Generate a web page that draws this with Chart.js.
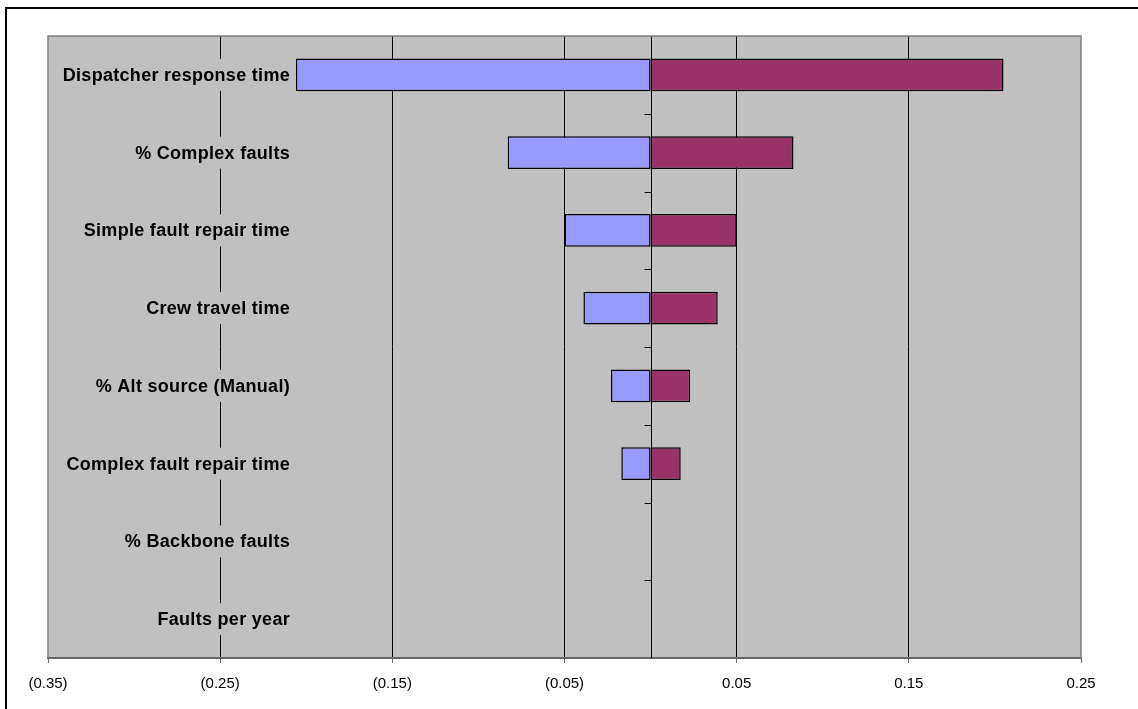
<!DOCTYPE html>
<html>
<head>
<meta charset="utf-8">
<title>Tornado chart</title>
<script src="https://cdn.jsdelivr.net/npm/chart.js@4.4.1/dist/chart.umd.min.js"></script>
<style>
  html, body { margin: 0; padding: 0; background: #fff; }
  #wrap { width: 1138px; height: 709px; position: relative; }
  canvas { display: block; }
</style>
</head>
<body>
<div id="wrap"><canvas id="chart" width="1138" height="709"></canvas></div>
<script>
// Datos del gráfico
const categories = [
    'Dispatcher response time',
    '% Complex faults',
    'Simple fault repair time',
    'Crew travel time',
    '% Alt source (Manual)',
    'Complex fault repair time',
    '% Backbone faults',
    'Faults per year'
];
const lowValues = [-0.206, -0.083, -0.050, -0.039, -0.023, -0.017, 0, 0];
const highValues = [0.205, 0.083, 0.050, 0.039, 0.023, 0.0175, 0, 0];
const xTicks = [-0.35, -0.25, -0.15, -0.05, 0.05, 0.15, 0.25];

const FONT = "'Liberation Sans', Arial, sans-serif";
const PLOT_BG = '#C0C0C0';

function fmtTick(v) {
    return v < 0 ? '(' + Math.abs(v).toFixed(2) + ')' : v.toFixed(2);
}

// Fondo gris y marco exterior
const backgroundPlugin = {
    id: 'plotBackground',
    beforeDraw(chart) {
        const { ctx, chartArea: a } = chart;
        ctx.save();
        ctx.fillStyle = PLOT_BG;
        ctx.fillRect(a.left, a.top, a.right - a.left, a.bottom - a.top);
        ctx.strokeStyle = '#000';
        ctx.lineWidth = 2;
        ctx.beginPath();
        ctx.moveTo(6, chart.height + 2);
        ctx.lineTo(6, 8);
        ctx.lineTo(chart.width + 2, 8);
        ctx.stroke();
        ctx.restore();
    }
};

// Eje vertical en cero con sus marcas
const zeroAxisPlugin = {
    id: 'zeroAxis',
    beforeDatasetsDraw(chart) {
        const { ctx, chartArea: a, scales } = chart;
        const x0 = Math.round(scales.x.getPixelForValue(0)) + 0.5;
        const step = (a.bottom - a.top) / categories.length;
        ctx.save();
        ctx.strokeStyle = '#000';
        ctx.lineWidth = 1;
        ctx.beginPath();
        ctx.moveTo(x0, a.top);
        ctx.lineTo(x0, a.bottom);
        for (let i = 1; i < categories.length; i++) {
            const y = Math.round(a.top + step * i) + 0.5;
            ctx.moveTo(x0 - 7, y);
            ctx.lineTo(x0, y);
        }
        ctx.stroke();
        // borde del área de trazado
        ctx.strokeStyle = '#808080';
        ctx.lineWidth = 1.5;
        ctx.beginPath();
        ctx.moveTo(a.left, a.bottom);
        ctx.lineTo(a.left, a.top);
        ctx.lineTo(a.right, a.top);
        ctx.lineTo(a.right, a.bottom);
        ctx.stroke();
        ctx.restore();
    }
};

// Etiquetas de categorías dentro del área
const categoryLabelsPlugin = {
    id: 'categoryLabels',
    afterDatasetsDraw(chart) {
        const { ctx, scales } = chart;
        const right = 290;
        ctx.save();
        ctx.font = 'bold 18px ' + FONT;
        ctx.letterSpacing = '0.3px';
        ctx.textAlign = 'right';
        ctx.textBaseline = 'middle';
        categories.forEach((label, i) => {
            const y = scales.y.getPixelForValue(i);
            const w = ctx.measureText(label).width;
            ctx.fillStyle = PLOT_BG;
            ctx.fillRect(right - w - 4, y - 16, w + 8, 32);
            ctx.fillStyle = '#000';
            ctx.fillText(label, right, y + 1);
        });
        ctx.restore();
    }
};

const ctx = document.getElementById('chart').getContext('2d');
new Chart(ctx, {
    type: 'bar',
    data: {
        labels: categories,
        datasets: [
            {
                label: 'Low',
                data: lowValues,
                backgroundColor: '#9999FF',
                borderColor: '#000',
                borderWidth: 1.5,
                borderSkipped: false,
                barPercentage: 0.42,
                categoryPercentage: 1
            },
            {
                label: 'High',
                data: highValues,
                backgroundColor: '#993366',
                borderColor: '#000',
                borderWidth: 1.5,
                borderSkipped: false,
                barPercentage: 0.42,
                categoryPercentage: 1
            }
        ]
    },
    options: {
        indexAxis: 'y',
        responsive: false,
        animation: false,
        devicePixelRatio: 1,
        layout: { padding: { left: 48, right: 57, top: 36, bottom: 0 } },
        plugins: {
            legend: { display: false },
            tooltip: { enabled: false }
        },
        scales: {
            x: {
                type: 'linear',
                stacked: true,
                min: -0.35,
                max: 0.25,
                afterBuildTicks: axis => { axis.ticks = xTicks.map(v => ({ value: v })); },
                afterFit: axis => { axis.height = 51; },
                grid: {
                    color: c => (c.index === 0 || c.index === xTicks.length - 1) ? 'rgba(0,0,0,0)' : '#000',
                    tickColor: '#666',
                    tickLength: 5,
                    lineWidth: 1
                },
                border: { color: '#666', width: 2 },
                ticks: {
                    callback: v => fmtTick(v),
                    color: '#000',
                    font: { family: FONT, size: 15 },
                    padding: 12,
                    maxRotation: 0,
                    autoSkip: false
                }
            },
            y: {
                type: 'category',
                stacked: true,
                display: false
            }
        }
    },
    plugins: [backgroundPlugin, zeroAxisPlugin, categoryLabelsPlugin]
});
</script>
</body>
</html>
